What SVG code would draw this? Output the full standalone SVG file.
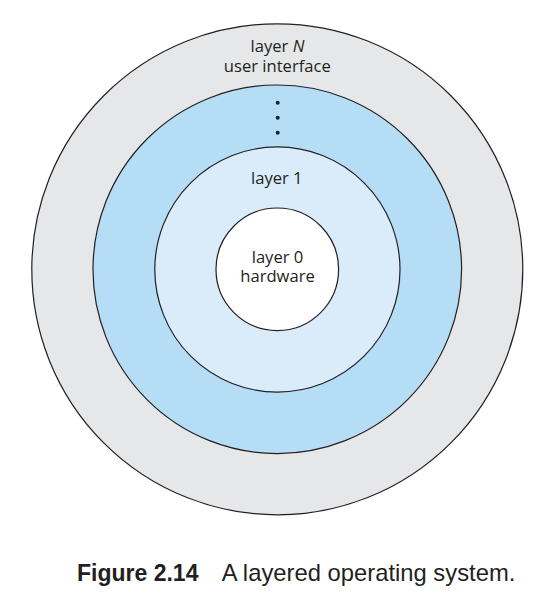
<svg xmlns="http://www.w3.org/2000/svg" width="556" height="596" viewBox="0 0 556 596">
<style>
.ring{stroke:#231f20;stroke-width:1.2}
.lbl{font-family:"Open Sans","Noto Sans",sans-serif;font-size:16.6px;fill:#231f20;text-anchor:middle}
.cap{font-family:"Liberation Sans",Arial,sans-serif;fill:#231f20}
</style>
<rect width="556" height="596" fill="#ffffff"/>
<g id="layerN">
<circle class="ring" cx="277.3" cy="269.3" r="245.5" fill="#e6e7e8"/>
<text class="lbl" x="277.5" y="51.5">layer <tspan font-style="italic">N</tspan></text>
<text class="lbl" x="277.3" y="71.5">user interface</text>
</g>
<g id="layerMid">
<circle class="ring" cx="277.3" cy="269.3" r="184.3" fill="#b5ddf5"/>
<circle cx="277.7" cy="102.7" r="2" fill="#231f20"/>
<circle cx="277.7" cy="117.7" r="2" fill="#231f20"/>
<circle cx="277.7" cy="132.7" r="2" fill="#231f20"/>
</g>
<g id="layer1">
<circle class="ring" cx="277.4" cy="269.5" r="122.6" fill="#daecf9"/>
<text class="lbl" x="276.8" y="184">layer 1</text>
</g>
<g id="layer0">
<circle class="ring" cx="277.3" cy="269.3" r="61.3" fill="#ffffff"/>
<text class="lbl" x="277.5" y="263">layer 0</text>
<text class="lbl" x="277.5" y="282">hardware</text>
</g>
<g id="caption">
<text class="cap" x="77" y="581" font-size="23" font-weight="bold">Figure 2.14</text>
<text class="cap" x="221.7" y="581" font-size="23.8">A layered operating system.</text>
</g>
</svg>
